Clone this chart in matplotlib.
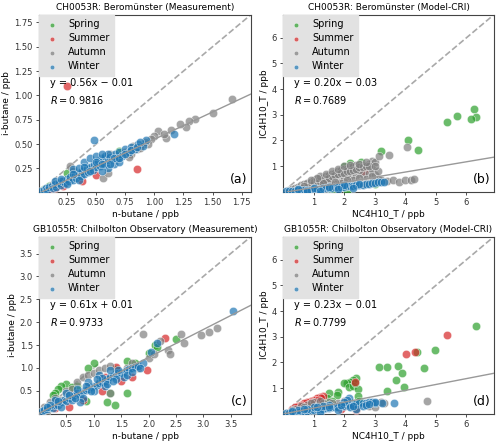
import numpy as np
import matplotlib
matplotlib.use("Agg")
import matplotlib.pyplot as plt

seasons = ["Spring", "Summer", "Autumn", "Winter"]
season_colors = ["#2ca02c", "#d62728", "#7f7f7f", "#1f77b4"]

# panel (a): CH0053R measurement, (n-butane, i-butane) in ppb
a_spring = [(0.25, 0.2), (0.1, 0.07), (0.7, 0.43), (0.05, 0.04)]
a_summer = [(0.25, 1.1), (0.85, 0.24), (0.5, 0.18), (0.38, 0.12), (0.2, 0.1),
            (0.15, 0.05), (0.1, 0.04), (0.22, 0.07)]
a_autumn = [(1.67, 0.96), (1.5, 0.82), (1.35, 0.76), (1.3, 0.74), (1.27, 0.68),
            (1.22, 0.71), (1.14, 0.64), (1.03, 0.63), (1.0, 0.58), (0.97, 0.55),
            (1.1, 0.56), (0.95, 0.5), (0.9, 0.5), (0.85, 0.45), (0.8, 0.4),
            (0.75, 0.42), (0.7, 0.38), (0.65, 0.35), (0.56, 0.15), (0.6, 0.2),
            (0.28, 0.28), (0.3, 0.22), (0.2, 0.12), (0.12, 0.08), (0.06, 0.04),
            (1.08, 0.6), (0.88, 0.46), (0.82, 0.48), (0.78, 0.37), (0.92, 0.52),
            (0.62, 0.4), (0.45, 0.25), (0.4, 0.22), (0.35, 0.18)]
a_winter = [(0.03, 0.02), (0.05, 0.03), (0.07, 0.05), (0.08, 0.03), (0.1, 0.06),
            (0.12, 0.07), (0.13, 0.05), (0.15, 0.09), (0.16, 0.06), (0.18, 0.1),
            (0.2, 0.08), (0.21, 0.12), (0.23, 0.1), (0.25, 0.14), (0.27, 0.12),
            (0.28, 0.16), (0.3, 0.13), (0.32, 0.18), (0.33, 0.15), (0.35, 0.2),
            (0.37, 0.17), (0.38, 0.22), (0.4, 0.19), (0.42, 0.25), (0.43, 0.21),
            (0.45, 0.27), (0.47, 0.23), (0.48, 0.3), (0.5, 0.26), (0.52, 0.33),
            (0.53, 0.28), (0.55, 0.36), (0.57, 0.3), (0.58, 0.38), (0.6, 0.33),
            (0.62, 0.37), (0.64, 0.35), (0.66, 0.4), (0.68, 0.36), (0.7, 0.42),
            (0.72, 0.38), (0.75, 0.45), (0.78, 0.42), (0.8, 0.47), (0.83, 0.45),
            (0.86, 0.5), (0.9, 0.48), (0.93, 0.54), (0.48, 0.54), (1.17, 0.6),
            (0.4, 0.32), (0.45, 0.36), (0.5, 0.38), (0.3, 0.24), (0.6, 0.25),
            (0.55, 0.22), (0.35, 0.13), (0.25, 0.09), (0.65, 0.3), (0.7, 0.32),
            (0.15, 0.12), (0.2, 0.14), (0.3, 0.19), (0.35, 0.25), (0.4, 0.27),
            (0.45, 0.22), (0.5, 0.32), (0.55, 0.3), (0.6, 0.4), (0.65, 0.36),
            (0.7, 0.36), (0.75, 0.4), (0.8, 0.44), (0.85, 0.47), (0.88, 0.52),
            (0.55, 0.4), (0.62, 0.3)]

# panel (b): CH0053R model, (NC4H10_T, IC4H10_T)
b_spring = [(6.25, 3.23), (6.3, 2.9), (6.15, 2.85), (5.7, 2.95), (5.35, 2.72),
            (4.1, 2.0), (4.4, 1.62), (3.2, 1.6), (2.55, 1.15), (2.2, 1.13),
            (3.0, 0.3), (2.1, 0.05), (1.6, 0.04), (2.0, 1.0), (2.65, 0.95), (1.2, 0.3)]
b_summer = [(2.65, 0.82), (1.0, 0.1), (0.5, 0.05)]
b_autumn = [(0.2, 0.08), (0.3, 0.12), (0.4, 0.15), (0.5, 0.2), (0.6, 0.25),
            (0.7, 0.3), (0.8, 0.35), (0.9, 0.4), (1.0, 0.45), (1.1, 0.5),
            (1.2, 0.5), (1.3, 0.55), (1.4, 0.6), (1.5, 0.65), (1.6, 0.7),
            (1.7, 0.75), (1.8, 0.8), (1.9, 0.85), (2.0, 0.9), (2.1, 0.9),
            (2.2, 0.95), (2.3, 1.0), (2.4, 1.05), (2.6, 1.05), (2.8, 1.1),
            (2.9, 1.2), (3.0, 1.15), (3.15, 1.4), (3.45, 1.42), (4.05, 1.75),
            (0.5, 0.1), (0.8, 0.2), (1.0, 0.3), (1.2, 0.35), (1.4, 0.4),
            (1.6, 0.45), (1.8, 0.5), (2.0, 0.55), (2.2, 0.6), (2.4, 0.65),
            (2.6, 0.7), (2.8, 0.75), (3.0, 0.65), (1.5, 0.3), (1.9, 0.35),
            (2.3, 0.45), (2.7, 0.5), (3.1, 0.5), (0.9, 0.25), (1.3, 0.25),
            (1.7, 0.6), (2.1, 0.7), (2.5, 0.85), (2.9, 0.9), (1.1, 0.2),
            (2.6, 0.3), (3.2, 0.45), (3.4, 0.42), (3.6, 0.45), (3.8, 0.4),
            (4.0, 0.45), (4.2, 0.45), (4.3, 0.48), (3.0, 0.4), (2.8, 0.35),
            (0.6, 0.15), (0.7, 0.22), (1.0, 0.38), (1.1, 0.42), (1.2, 0.42),
            (1.3, 0.45), (1.4, 0.5), (1.5, 0.55), (1.6, 0.6), (1.7, 0.65),
            (1.8, 0.7), (1.9, 0.72), (2.0, 0.75), (2.1, 0.8), (2.2, 0.8),
            (2.3, 0.85), (2.4, 0.9), (2.5, 0.95), (2.6, 0.95), (2.7, 1.0),
            (2.8, 1.0), (1.2, 0.6), (1.4, 0.7), (1.6, 0.8), (1.8, 0.9),
            (2.0, 1.0), (2.2, 1.05), (2.5, 1.1), (2.7, 1.15), (1.3, 0.35),
            (1.7, 0.4), (2.1, 0.45), (2.5, 0.55), (2.9, 0.6), (3.1, 0.8),
            (3.0, 1.0), (1.1, 0.55), (0.9, 0.45)]
b_winter = [(0.1, 0.02), (0.2, 0.03), (0.3, 0.04), (0.4, 0.05), (0.5, 0.06),
            (0.6, 0.07), (0.7, 0.07), (0.8, 0.08), (0.9, 0.09), (1.0, 0.1),
            (1.1, 0.11), (1.2, 0.12), (1.3, 0.13), (1.4, 0.14), (1.5, 0.15),
            (1.6, 0.16), (1.7, 0.17), (1.8, 0.18), (1.9, 0.19), (2.0, 0.2),
            (2.1, 0.22), (2.2, 0.23), (2.3, 0.24), (2.4, 0.25), (2.5, 0.27),
            (2.6, 0.28), (2.7, 0.3), (2.8, 0.32), (2.9, 0.33), (3.0, 0.35),
            (3.1, 0.37), (3.2, 0.38), (3.3, 0.4), (0.5, 0.1), (1.0, 0.15),
            (1.5, 0.2), (2.0, 0.28), (2.5, 0.32), (0.8, 0.03), (1.2, 0.05),
            (1.8, 0.1), (2.3, 0.15)]

# panel (c): GB1055R measurement
c_spring = [(2.5, 1.63), (2.0, 1.33), (2.12, 1.5), (2.15, 1.45), (1.6, 1.15),
            (1.0, 1.1), (0.9, 1.0), (0.5, 0.65), (0.4, 0.6), (0.35, 0.55),
            (0.3, 0.45), (0.25, 0.4), (1.6, 0.45), (1.25, 0.25), (1.38, 0.2),
            (1.3, 0.45), (0.85, 0.28), (1.75, 1.1), (1.4, 0.98), (0.7, 0.6),
            (0.6, 0.58)]
c_summer = [(2.3, 1.65), (1.98, 0.95), (1.4, 1.03), (1.2, 0.8), (1.5, 0.72),
            (1.15, 0.5), (0.55, 0.15), (0.8, 0.3), (0.6, 0.4), (0.3, 0.12), (1.7, 0.8)]
c_autumn = [(3.25, 1.88), (3.1, 1.78), (2.95, 1.72), (2.65, 1.55), (2.6, 1.75),
            (2.35, 1.4), (2.4, 1.3), (2.2, 1.6), (1.9, 1.75), (2.0, 1.22),
            (2.1, 1.3), (1.8, 1.0), (1.3, 0.45), (0.2, 0.25), (0.1, 0.15),
            (0.3, 0.35), (0.5, 0.5), (0.6, 0.55), (0.7, 0.7), (0.8, 0.8),
            (0.9, 0.85), (1.0, 0.9), (1.1, 0.95), (1.2, 1.0), (1.3, 1.05),
            (1.4, 0.9), (1.6, 1.0), (1.7, 1.1), (0.9, 0.6), (1.1, 0.7),
            (0.4, 0.3), (0.15, 0.05)]
c_winter = [(0.05, 0.05), (0.1, 0.08), (0.15, 0.1), (0.2, 0.15), (0.25, 0.13),
            (0.3, 0.2), (0.35, 0.2), (0.4, 0.25), (0.45, 0.3), (0.5, 0.28),
            (0.55, 0.35), (0.6, 0.38), (0.65, 0.4), (0.7, 0.45), (0.75, 0.42),
            (0.8, 0.5), (0.85, 0.52), (0.9, 0.55), (0.95, 0.58), (1.0, 0.6),
            (1.05, 0.62), (1.1, 0.68), (1.15, 0.7), (1.2, 0.72), (1.25, 0.75),
            (1.3, 0.8), (1.35, 0.82), (1.4, 0.85), (1.45, 0.88), (1.5, 0.9),
            (1.55, 0.92), (1.6, 0.95), (1.65, 0.98), (1.7, 1.0), (1.75, 1.02),
            (1.8, 1.05), (0.3, 0.3), (0.5, 0.45), (0.7, 0.55), (0.9, 0.7),
            (1.1, 0.85), (1.3, 0.95), (0.4, 0.15), (0.6, 0.3), (0.8, 0.35),
            (1.0, 0.5), (1.2, 0.6), (1.4, 0.75), (0.75, 0.25), (3.55, 2.25),
            (2.15, 1.55), (2.05, 1.35), (1.55, 0.8), (1.9, 1.1),
            (0.2, 0.2), (0.35, 0.28), (0.55, 0.42), (0.65, 0.35), (0.85, 0.6),
            (0.95, 0.5), (1.15, 0.78), (1.25, 0.65), (1.35, 0.72), (1.45, 0.95),
            (1.6, 0.85), (1.7, 0.92), (1.85, 1.0), (0.15, 0.15), (1.05, 0.75)]

# panel (d): GB1055R model
d_spring = [(6.3, 3.42), (4.98, 2.5), (4.6, 1.8), (4.37, 2.42), (3.75, 1.87),
            (3.9, 1.6), (3.15, 1.83), (3.4, 1.82), (3.7, 1.3), (3.95, 1.05),
            (3.4, 0.88), (2.4, 1.4), (2.3, 1.3), (2.2, 1.25), (2.1, 1.18),
            (2.0, 1.2), (2.15, 1.05), (2.3, 1.1), (2.45, 0.95), (2.45, 0.7),
            (2.35, 1.2), (1.8, 0.85), (1.75, 0.72), (1.5, 0.8), (1.45, 0.6),
            (1.6, 0.5), (2.25, 0.4), (2.0, 0.3), (1.2, 0.4), (1.0, 0.35), (2.5, 0.5)]
d_summer = [(5.35, 3.05), (4.02, 2.33), (4.33, 2.42), (2.35, 1.25), (1.3, 0.7),
            (1.2, 0.65), (1.1, 0.62), (1.0, 0.55), (0.9, 0.5), (0.8, 0.45),
            (0.7, 0.4), (0.5, 0.3), (0.3, 0.2), (2.0, 0.3), (1.9, 0.2), (2.4, 0.15),
            (1.25, 0.6), (1.15, 0.55), (0.6, 0.35), (0.4, 0.25), (0.95, 0.45)]
d_autumn = [(4.72, 0.5), (3.3, 0.4), (3.2, 0.45), (2.8, 0.3), (1.5, 0.45),
            (1.3, 0.4), (1.0, 0.45), (0.8, 0.35), (0.6, 0.3), (0.4, 0.2),
            (2.2, 0.3), (3.0, 0.28), (1.8, 0.4), (2.0, 0.5), (1.1, 0.3),
            (0.3, 0.15), (2.4, 0.2), (1.2, 0.5), (0.9, 0.4), (0.7, 0.25),
            (1.6, 0.4), (1.4, 0.3)]
d_winter = [(0.1, 0.02), (0.2, 0.04), (0.3, 0.05), (0.4, 0.07), (0.5, 0.08),
            (0.6, 0.1), (0.7, 0.1), (0.8, 0.12), (0.9, 0.14), (1.0, 0.15),
            (1.1, 0.17), (1.2, 0.18), (1.3, 0.2), (1.4, 0.22), (1.5, 0.23),
            (1.6, 0.25), (1.7, 0.27), (1.8, 0.28), (1.9, 0.3), (2.0, 0.32),
            (2.1, 0.33), (2.2, 0.35), (2.3, 0.37), (2.4, 0.38), (2.5, 0.4),
            (2.6, 0.42), (2.7, 0.43), (2.8, 0.45), (2.9, 0.47), (3.0, 0.4),
            (3.25, 0.4), (3.62, 0.43), (2.15, 0.6), (2.1, 0.55), (0.5, 0.15),
            (1.0, 0.25), (1.5, 0.35), (2.0, 0.45), (1.2, 0.08), (1.8, 0.15),
            (2.4, 0.2), (0.8, 0.2), (1.3, 0.3), (2.2, 0.25), (2.6, 0.3),
            (0.3, 0.1), (0.7, 0.18), (1.1, 0.25), (1.5, 0.28), (1.9, 0.35),
            (2.3, 0.3), (2.7, 0.35), (3.0, 0.46), (2.8, 0.38)]

titles = ["CH0053R: Beromünster (Measurement)", "CH0053R: Beromünster (Model-CRI)",
          "GB1055R: Chilbolton Observatory (Measurement)",
          "GB1055R: Chilbolton Observatory (Model-CRI)"]
xlabels = ["n-butane / ppb", "NC4H10_T / ppb", "n-butane / ppb", "NC4H10_T / ppb"]
ylabels = ["i-butane / ppb", "IC4H10_T / ppb", "i-butane / ppb", "IC4H10_T / ppb"]
fit_slope = [0.56, 0.20, 0.61, 0.23]
fit_icept = [-0.01, -0.03, 0.01, -0.01]
fit_r = ["0.9816", "0.7689", "0.9733", "0.7799"]
letters = ["(a)", "(b)", "(c)", "(d)"]
limits = [(0.01, 1.83), (0.0, 6.9), (0.0, 3.87), (0.0, 6.9)]
ticks = [[0.25, 0.5, 0.75, 1.0, 1.25, 1.5, 1.75], [1, 2, 3, 4, 5, 6],
         [0.5, 1.0, 1.5, 2.0, 2.5, 3.0, 3.5], [1, 2, 3, 4, 5, 6]]
panels = [[a_spring, a_summer, a_autumn, a_winter],
          [b_spring, b_summer, b_autumn, b_winter],
          [c_spring, c_summer, c_autumn, c_winter],
          [d_spring, d_summer, d_autumn, d_winter]]

# axes boxes in figure fraction
boxes = [[0.078, 0.567, 0.424, 0.400], [0.566, 0.567, 0.422, 0.400],
         [0.078, 0.066, 0.424, 0.400], [0.566, 0.066, 0.422, 0.400]]

fig = plt.figure(figsize=(5.0, 4.43), dpi=100)

for i in range(4):
    ax = fig.add_axes(boxes[i])
    for s, pts in enumerate(panels[i]):
        pts = np.array(pts)
        ax.scatter(pts[:, 0], pts[:, 1], s=36, color=season_colors[s], alpha=0.7,
                   edgecolor="white", linewidth=0.4, label=seasons[s], zorder=3)
    ax.axline((0, 0), slope=1, ls="--", color="darkgray", lw=1.2, zorder=2)
    ax.axline((0, fit_icept[i]), slope=fit_slope[i], color="#999999", lw=1.0, zorder=4)
    ax.set_xlim(limits[i])
    ax.set_ylim(limits[i])
    ax.set_xticks(ticks[i])
    ax.set_yticks(ticks[i])
    ax.tick_params(labelsize=6, length=2.5, width=0.6, pad=2, colors="#333333")
    for sp in ax.spines.values():
        sp.set_color("#444444")
        sp.set_linewidth(0.8)
    ax.set_title(titles[i], fontsize=6.5, pad=3)
    ax.set_xlabel(xlabels[i], fontsize=6.5, labelpad=2)
    ax.set_ylabel(ylabels[i], fontsize=6.5, labelpad=2)
    sign = "+" if fit_icept[i] >= 0 else "\u2212"
    ax.text(0.05, 0.615, f"y = {fit_slope[i]:.2f}x {sign} {abs(fit_icept[i]):.2f}",
            transform=ax.transAxes, fontsize=7, va="center")
    ax.text(0.05, 0.52, f"$R = {fit_r[i]}$", transform=ax.transAxes,
            fontsize=7, va="center")
    ax.text(0.985, 0.035, letters[i], transform=ax.transAxes, fontsize=9,
            ha="right", va="bottom")
    leg = ax.legend(loc="upper left", fontsize=7, borderaxespad=0, markerscale=0.55,
                    handlelength=1.6, handletextpad=0.9, labelspacing=0.4,
                    fancybox=False, framealpha=1.0, borderpad=0.5)
    leg.get_frame().set_facecolor("#e2e2e2")
    leg.get_frame().set_edgecolor("#e2e2e2")

fig.savefig("out.png", dpi=100)
